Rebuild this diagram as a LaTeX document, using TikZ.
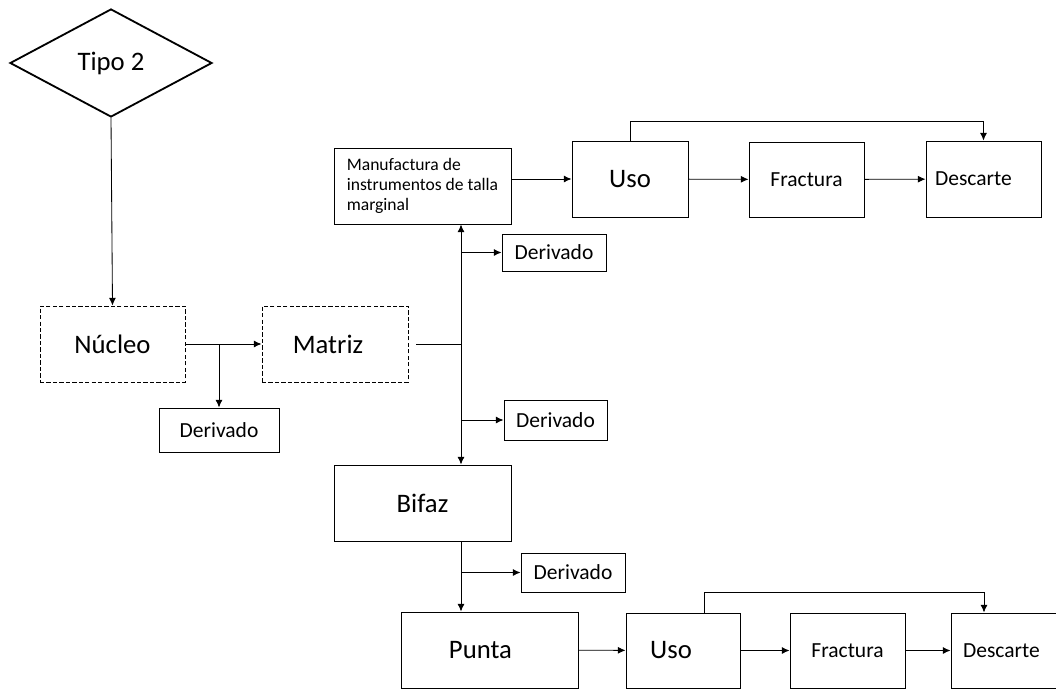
\documentclass[tikz,border=0pt]{standalone}
\usepackage{fontspec}
\setmainfont{Carlito}
\usetikzlibrary{arrows.meta, positioning, shapes.geometric}

\begin{document}
\begin{tikzpicture}[
      box/.style={draw, line width=0.7pt, inner sep=0pt, align=center},
      dbox/.style={box, dash pattern=on 3pt off 1.6pt},
      conn/.style={line width=0.6pt, -{Latex[length=5.5pt, width=5pt]}},
      big/.style={font=\fontsize{19}{23}\selectfont},
      small/.style={font=\fontsize{15.3}{18}\selectfont}
    ]
    \useasboundingbox (0,0) rectangle (26.4,-17.225);

    \node[draw, diamond, line width=1.3pt, minimum width=5.05cm, minimum height=2.7cm, inner sep=0pt, big] (tipo) at (2.775,-1.575) {Tipo 2};
    \node[dbox, minimum width=3.625cm, minimum height=1.9cm, big] (nucleo) at (2.8125,-8.6) {Núcleo};
    \node[dbox, minimum width=3.65cm, minimum height=1.9cm, big] (matriz) at (8.375,-8.6) {Matriz\hspace*{0.35cm}};
    \node[box, minimum width=3.0cm, minimum height=1.1cm, small] (der1) at (5.475,-10.75) {Derivado};
    \node[box, minimum width=4.425cm, minimum height=1.9cm, align=left, font=\fontsize{12.5}{14.2}\selectfont] (manuf) at (10.5625,-4.65) {Manufactura de\\instrumentos de talla\\marginal};
    \node[box, minimum width=2.6cm, minimum height=0.925cm, small] (der2) at (13.85,-6.3125) {Derivado};
    \node[box, minimum width=2.9cm, minimum height=1.9cm, big] (uso1) at (15.75,-4.475) {Uso};
    \node[box, minimum width=2.875cm, minimum height=1.875cm, small] (frac1) at (20.1625,-4.4875) {Fractura};
    \node[box, minimum width=2.875cm, minimum height=1.9cm, small] (desc1) at (24.5875,-4.475) {Descarte\hspace*{0.5cm}};
    \node[box, minimum width=2.575cm, minimum height=1.0cm, small] (der3) at (13.8875,-10.5) {Derivado};
    \node[box, minimum width=4.425cm, minimum height=1.9cm, big] (bifaz) at (10.5625,-12.575) {Bifaz};
    \node[box, minimum width=2.6cm, minimum height=0.975cm, small] (der4) at (14.325,-14.3125) {Derivado};
    \node[box, minimum width=4.425cm, minimum height=1.9cm, big] (punta) at (12.2375,-16.25) {Punta\hspace*{0.45cm}};
    \node[box, minimum width=2.85cm, minimum height=1.875cm, big] (uso2) at (17.075,-16.2625) {Uso\hspace*{0.6cm}};
    \node[box, minimum width=2.875cm, minimum height=1.875cm, small] (frac2) at (21.1875,-16.2625) {Fractura};
    \node[box, minimum width=2.875cm, minimum height=1.875cm, small] (desc2) at (25.2125,-16.2625) {Descarte\hspace*{0.35cm}};
    \coordinate (jn) at (11.525,-8.6);

    \draw[conn] (tipo.south) -- (nucleo.north);
    \draw[conn] (nucleo.east) -- (matriz.west);
    \draw[conn] (der1.north |- nucleo.east) -- (der1.north);
    \draw[line width=0.6pt] ([xshift=0.2cm]matriz.east) -- (jn);
    \draw[conn] (jn) -- (jn |- manuf.south);
    \draw[conn] (jn) -- (jn |- bifaz.north);
    \draw[conn] (jn |- der2.west) -- (der2.west);
    \draw[conn] (jn |- der3.west) -- (der3.west);
    \draw[conn] (jn |- bifaz.south) -- (jn |- punta.north);
    \draw[conn] (jn |- der4.west) -- (der4.west);
    \draw[conn] (manuf.east |- uso1.west) -- (uso1.west);
    \draw[conn] (uso1) -- (frac1);
    \draw[conn] (frac1) -- (desc1);
    \draw[conn] (uso1.north) -- ++(0,0.475) -| (desc1.north);
    \draw[conn] (punta) -- (uso2);
    \draw[conn] (uso2) -- (frac2);
    \draw[conn] (frac2) -- (desc2);
    \draw[conn] ([xshift=0.525cm]uso2.north) -- ++(0,0.5) -| ([xshift=-0.6125cm]desc2.north);
\end{tikzpicture}
\end{document}
